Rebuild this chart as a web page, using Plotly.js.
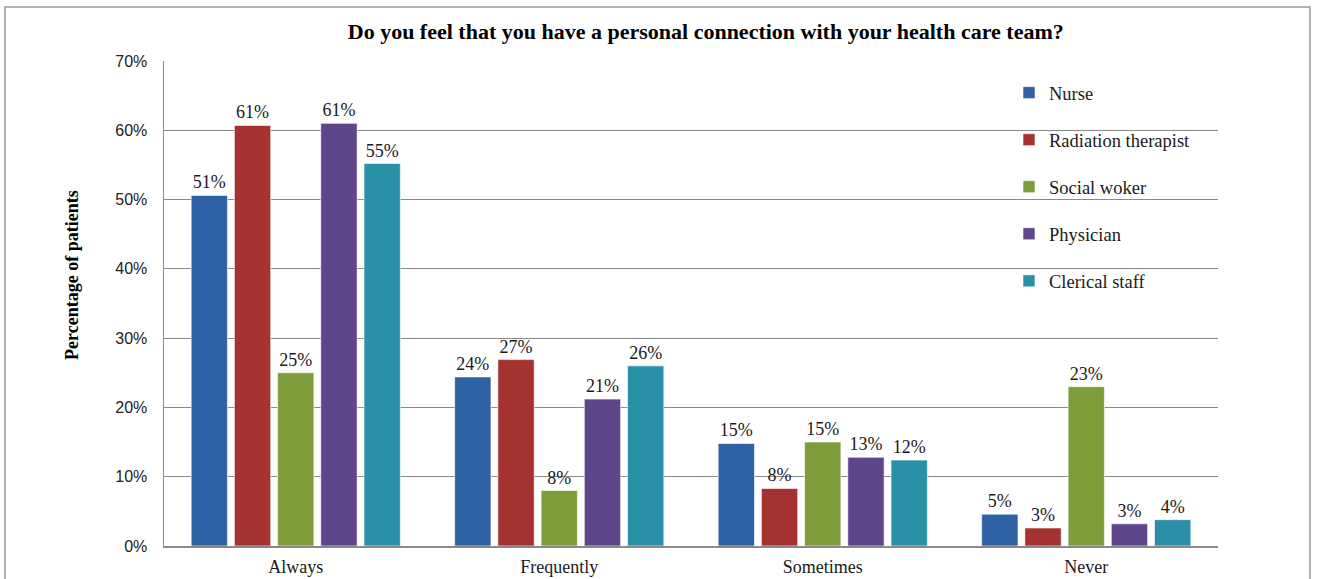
<!DOCTYPE html>
<html>
<head>
<meta charset="utf-8">
<script src="https://cdn.plot.ly/plotly-3.0.1.min.js"></script>
<style>html,body{margin:0;padding:0;background:#fff;}#chart{width:1319px;height:579px;}</style>
</head>
<body>
<div id="chart"></div>
<script>
const categories = ["Always", "Frequently", "Sometimes", "Never"];
const seriesNames = ["Nurse", "Radiation therapist", "Social woker", "Physician", "Clerical staff"];
const nurse = [50.6, 24.4, 14.8, 4.6];
const radiationTherapist = [60.7, 26.9, 8.3, 2.6];
const socialWorker = [25.0, 8.0, 15.0, 23.0];
const physician = [61.0, 21.2, 12.8, 3.2];
const clericalStaff = [55.2, 26.0, 12.4, 3.8];
const colors = ["#2f62a4", "#a53230", "#7c9d3a", "#5f4589", "#2a90a8"];
const yTickVals = [0, 10, 20, 30, 40, 50, 60, 70];
const yTickText = ["0%", "10%", "20%", "30%", "40%", "50%", "60%", "70%"];

const serif = "Liberation Serif, Times New Roman, serif";
const values = [nurse, radiationTherapist, socialWorker, physician, clericalStaff];
const traces = values.map((v, i) => ({
  type: "bar",
  name: seriesNames[i],
  x: categories,
  y: v,
  legendgroup: "g" + i,
  marker: {color: colors[i], line: {color: "rgba(255,255,255,0.6)", width: 1}},
  text: v.map(d => Math.round(d) + "%"),
  textposition: "outside",
  cliponaxis: false,
  textfont: {family: serif, size: 18, color: "#1a1a1a"},
  hoverinfo: "x+y+name"
}));

const layout = {
  width: 1319, height: 579,
  paper_bgcolor: "#fff", plot_bgcolor: "#fff",
  margin: {l: 164, r: 101, t: 61, b: 33},
  barmode: "group",
  bargap: 0.18,
  bargroupgap: 0.16,
  showlegend: true,
  title: {
    text: "<b>Do you feel that you have a personal connection with your health care team?</b>",
    font: {family: serif, size: 22, color: "#000"},
    x: 0.514, xref: "paper", xanchor: "center",
    y: 1, yref: "container", yanchor: "top", pad: {t: 24}
  },
  xaxis: {
    type: "category",
    showgrid: false,
    showline: true, linecolor: "#8a8a8a", linewidth: 1.5,
    ticks: "",
    tickfont: {family: serif, size: 18, color: "#1a1a1a"},
    ticklabelstandoff: 4,
    fixedrange: true
  },
  yaxis: {
    range: [0, 70],
    tickvals: yTickVals, ticktext: yTickText,
    showgrid: true, gridcolor: "#8a8a8a", gridwidth: 1.2,
    showline: true, linecolor: "#8a8a8a", linewidth: 1.5,
    zeroline: false,
    ticks: "",
    ticklabelstandoff: 12,
    tickfont: {family: "Liberation Sans, Arial, sans-serif", size: 16, color: "#222"},
    fixedrange: true
  },
  annotations: [{
    text: "<b>Percentage of patients</b>",
    xref: "paper", yref: "paper",
    x: -0.0872, y: 0.559, xanchor: "center", yanchor: "middle",
    textangle: -90, showarrow: false,
    font: {family: serif, size: 18, color: "#000"}
  }],
  legend: {
    x: 0.8017, xref: "paper", xanchor: "left",
    y: 0.973, yref: "paper", yanchor: "top",
    bgcolor: "rgba(255,255,255,0)",
    font: {family: serif, size: 18.5, color: "#1a1a1a"},
    tracegroupgap: 20,
    itemwidth: 30
  },
  shapes: [{
    type: "rect", xref: "paper", yref: "paper",
    x0: -0.1509, x1: 1.0873, y0: -0.12, y1: 1.1113,
    line: {color: "#999", width: 1.5}, fillcolor: "rgba(0,0,0,0)", layer: "below"
  }]
};

Plotly.newPlot("chart", traces, layout, {displayModeBar: false, staticPlot: true});
</script>
</body>
</html>
